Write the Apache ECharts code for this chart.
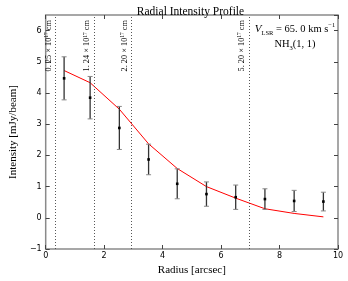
<!DOCTYPE html>
<html><head><meta charset="utf-8">
<script src="https://cdn.jsdelivr.net/npm/echarts@6/dist/echarts.min.js"></script>
<style>html,body{margin:0;padding:0;background:#fff}#c{width:348px;height:281px}</style>
</head><body><div id="c"></div>
<script>
// data
var radius = [0.63, 1.52, 2.52, 3.52, 4.5, 5.5, 6.5, 7.5, 8.5, 9.5];
var intensity = [4.47, 3.85, 2.88, 1.87, 1.09, 0.76, 0.66, 0.60, 0.54, 0.52];
var errors = [0.69, 0.68, 0.69, 0.49, 0.48, 0.39, 0.39, 0.33, 0.34, 0.30];
var model = [4.72, 4.33, 3.48, 2.37, 1.58, 1.00, 0.63, 0.29, 0.14, 0.03];
var shellRadius = [0.334, 1.658, 2.94, 6.95];
var shellLabels = ['0. 25', '1. 24', '2. 20', '5. 20'];
var xTicks = [0, 2, 4, 6, 8, 10];
var yTicks = [-1, 0, 1, 2, 3, 4, 5, 6];

var serif = "'Liberation Serif', 'DejaVu Serif', serif";
var sans = "'DejaVu Sans', sans-serif";

var chart = echarts.init(document.getElementById('c'), null, {renderer: 'canvas'});
var tickCommon = {show: true, inside: true, length: 4, lineStyle: {color: '#444', width: 1}};
var noLine = {show: false, onZero: false};

var errData = radius.map(function (r, i) { return [r, intensity[i], errors[i]]; });

chart.setOption({
  animation: false,
  title: [{
    text: 'Radial Intensity Profile',
    left: 185.5, top: 1, textAlign: 'center',
    textStyle: {fontFamily: serif, fontSize: 11.5, fontWeight: 'normal', color: '#000'}
  }, {
    text: '{v|V}{sub|LSR}{n| = 65. 0 km s}{sup|−1}\n{n|NH}{sub|3}{n|(1, 1)}',
    left: 290, top: 17, textAlign: 'center',
    textStyle: {
      fontFamily: serif, fontSize: 10.5, fontWeight: 'normal', color: '#000', lineHeight: 15, align: 'center',
      rich: {
        v: {fontFamily: serif, fontSize: 11, fontStyle: 'italic', color: '#000', lineHeight: 15},
        n: {fontFamily: serif, fontSize: 10.5, color: '#000', lineHeight: 15},
        sub: {fontFamily: serif, fontSize: 6.5, color: '#000', lineHeight: 15, verticalAlign: 'bottom', padding: [6, 0, 0, 0]},
        sup: {fontFamily: serif, fontSize: 6.5, color: '#000', lineHeight: 15, verticalAlign: 'top', padding: [0, 0, 5, 0]}
      }
    }
  }],
  grid: {left: 33, right: 10, top: 15, bottom: 29, show: true, borderColor: '#8a8a8a', borderWidth: 1.5, backgroundColor: 'transparent'},
  xAxis: [{
    type: 'value', min: 0, max: 10, interval: 2,
    name: 'Radius [arcsec]', nameLocation: 'middle', nameGap: 16,
    nameTextStyle: {fontFamily: serif, fontSize: 11, color: '#000'},
    axisLine: noLine, splitLine: {show: false},
    axisTick: tickCommon,
    axisLabel: {fontFamily: sans, fontSize: 8, color: '#000', margin: 3}
  }, {
    type: 'value', min: 0, max: 10, interval: 2, position: 'top',
    axisLine: noLine, splitLine: {show: false}, axisTick: tickCommon, axisLabel: {show: false}
  }],
  yAxis: [{
    type: 'value', min: -1, max: 6.5, interval: 1,
    name: 'Intensity [mJy/beam]', nameLocation: 'middle', nameGap: 20,
    nameTextStyle: {fontFamily: serif, fontSize: 11, color: '#000'},
    axisLine: noLine, splitLine: {show: false},
    axisTick: tickCommon,
    axisLabel: {fontFamily: sans, fontSize: 8, color: '#000', margin: 4, showMaxLabel: false,
      formatter: function (v) { return v < 0 ? '−' + Math.abs(v) : String(v); }}
  }, {
    type: 'value', min: -1, max: 6.5, interval: 1, position: 'right',
    axisLine: noLine, splitLine: {show: false}, axisTick: tickCommon, axisLabel: {show: false}
  }],
  series: [{
    type: 'line',
    data: radius.map(function (r, i) { return [r, model[i]]; }),
    showSymbol: false, symbol: 'none',
    lineStyle: {color: '#ff0000', width: 1},
    z: 3,
    markLine: {
      silent: true, symbol: 'none', animation: false,
      lineStyle: {color: '#444', type: [1, 2], width: 0.9},
      label: {
        show: true, position: 'insideEndTop', distance: [5, 2],
        fontFamily: serif, fontSize: 8.3, color: '#000',
        rich: {
          n: {fontFamily: serif, fontSize: 8.3, color: '#000'},
          sup: {fontFamily: serif, fontSize: 5.5, color: '#000', verticalAlign: 'top', padding: [0, 0, 4, 0]}
        }
      },
      data: shellRadius.map(function (x, i) {
        return {xAxis: x, label: {formatter: '{n|' + shellLabels[i] + ' × 10}{sup|17}{n| cm}'}};
      })
    }
  }, {
    type: 'custom',
    data: errData,
    z: 4,
    renderItem: function (params, api) {
      var x = api.value(0), y = api.value(1), e = api.value(2);
      var c = api.coord([x, y]);
      var hi = api.coord([x, y + e]);
      var lo = api.coord([x, y - e]);
      var cw = 2.5;
      return {
        type: 'group',
        children: [
          {type: 'line', shape: {x1: c[0], y1: hi[1], x2: c[0], y2: lo[1]}, style: {stroke: '#333', lineWidth: 1.3}},
          {type: 'line', shape: {x1: c[0] - cw, y1: hi[1], x2: c[0] + cw, y2: hi[1]}, style: {stroke: '#888', lineWidth: 1}},
          {type: 'line', shape: {x1: c[0] - cw, y1: lo[1], x2: c[0] + cw, y2: lo[1]}, style: {stroke: '#888', lineWidth: 1}},
          {type: 'rect', shape: {x: c[0] - 1.3, y: c[1] - 1.3, width: 2.6, height: 2.6}, style: {fill: '#000'}}
        ]
      };
    }
  }]
});
</script>
</body></html>
